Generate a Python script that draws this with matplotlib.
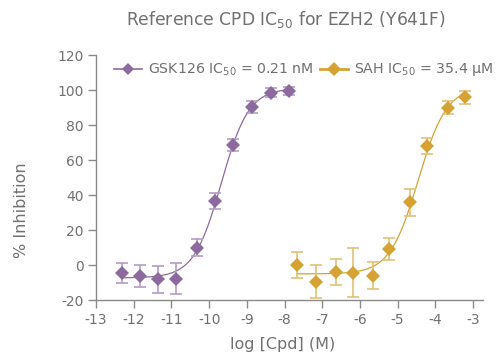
import numpy as np
import matplotlib
matplotlib.use("Agg")
import matplotlib.pyplot as plt
from matplotlib.lines import Line2D

# ---- data ----
gsk_x = [-12.32, -11.83, -11.35, -10.88, -10.33, -9.84, -9.37, -8.87, -8.37, -7.87]
gsk_y = [-4.4, -6.3, -8.2, -7.8, 9.9, 36.5, 68.6, 90.1, 98.5, 99.4]
gsk_err = [5.8, 6.5, 7.6, 8.8, 5.0, 4.5, 3.5, 3.4, 2.5, 2.2]
gsk_logic50 = np.log10(0.21e-9)

sah_x = [-7.66, -7.17, -6.64, -6.18, -5.64, -5.22, -4.67, -4.21, -3.66, -3.20]
sah_y = [0.0, -9.5, -4.0, -4.4, -6.1, 9.3, 35.8, 68.0, 89.9, 95.8]
sah_err = [7.7, 9.5, 7.4, 13.9, 7.6, 6.2, 7.7, 4.4, 3.7, 3.7]
sah_logic50 = np.log10(35.4e-6)

xticks = list(range(-13, -2))
yticks = list(range(-20, 121, 20))

PURPLE = "#8c6a9f"
PURPLE_ERR = "#b59cc6"
GOLD = "#d6a234"
GOLD_ERR = "#e4c075"
GRAY = "#707070"
AXGRAY = "#8a8a8a"

plt.rcParams['font.family'] = ['DejaVu Sans']


def fit4pl(x, y, logic50):
    x = np.asarray(x); y = np.asarray(y)
    best = None
    for h in np.arange(0.3, 4.0, 0.01):
        f = 1.0 / (1.0 + 10 ** ((logic50 - x) * h))
        A = np.column_stack([1 - f, f])
        coef, res, *_ = np.linalg.lstsq(A, y, rcond=None)
        r = np.sum((A @ coef - y) ** 2)
        if best is None or r < best[0]:
            best = (r, h, coef[0], coef[1])
    _, h, b, t = best
    return lambda xx: b + (t - b) / (1.0 + 10 ** ((logic50 - xx) * h))


fig = plt.figure(figsize=(4.98, 3.58), dpi=100)
ax = fig.add_axes([0.193, 0.162, 0.777, 0.684])

for xs, ys, es, lic, col, ecol in [
    (gsk_x, gsk_y, gsk_err, gsk_logic50, PURPLE, PURPLE_ERR),
    (sah_x, sah_y, sah_err, sah_logic50, GOLD, GOLD_ERR),
]:
    f = fit4pl(xs, ys, lic)
    xx = np.linspace(min(xs), max(xs), 300)
    ax.plot(xx, f(xx), color=col, lw=0.9, zorder=2)
    ax.errorbar(xs, ys, yerr=es, fmt='none', ecolor=ecol, elinewidth=1.2,
                capsize=4.5, capthick=1.2, zorder=3)
    ax.plot(xs, ys, 'D', color=col, markersize=7, markeredgewidth=0, zorder=4)

ax.set_xlim(-13, -2.73)
ax.set_ylim(-20, 120)
ax.set_xticks(xticks)
ax.set_yticks(yticks)
ax.set_xticklabels([str(t) for t in xticks])
ax.set_yticklabels([str(t) for t in yticks])

for s in ['top', 'right']:
    ax.spines[s].set_visible(False)
for s in ['left', 'bottom']:
    ax.spines[s].set_color(AXGRAY)
    ax.spines[s].set_linewidth(1.0)
ax.tick_params(axis='both', colors=AXGRAY, labelcolor=GRAY, labelsize=10,
               length=6, width=1.0, direction='out', pad=3)

fig.text(283 / 498, 1 - 345 / 358, 'log [Cpd] (M)', ha='center', va='center',
         fontsize=11.5, color=GRAY)
fig.text(22 / 498, 1 - 210 / 358, '% Inhibition', ha='center', va='center',
         rotation=90, fontsize=11.5, color=GRAY)
fig.text(286 / 498, 1 - 20 / 358, 'Reference CPD IC$_{50}$ for EZH2 (Y641F)',
         ha='center', va='center', fontsize=12.3, color=GRAY)

handles = [
    Line2D([0], [0], color=PURPLE, lw=1.2, marker='D', markersize=6, markeredgewidth=0),
    Line2D([0], [0], color=GOLD, lw=2.0, marker='D', markersize=7, markeredgewidth=0),
]
labels = ['GSK126 IC$_{50}$ = 0.21 nM', 'SAH IC$_{50}$ = 35.4 µM']
leg = fig.legend(handles, labels, ncol=2, frameon=False, loc='center',
                 bbox_to_anchor=(303.5 / 498, 1 - 70 / 358), fontsize=10.2,
                 handlelength=2.0, handletextpad=0.4, columnspacing=0.5,
                 labelcolor=GRAY, borderpad=0, borderaxespad=0)

fig.savefig('out.png', dpi=100)
